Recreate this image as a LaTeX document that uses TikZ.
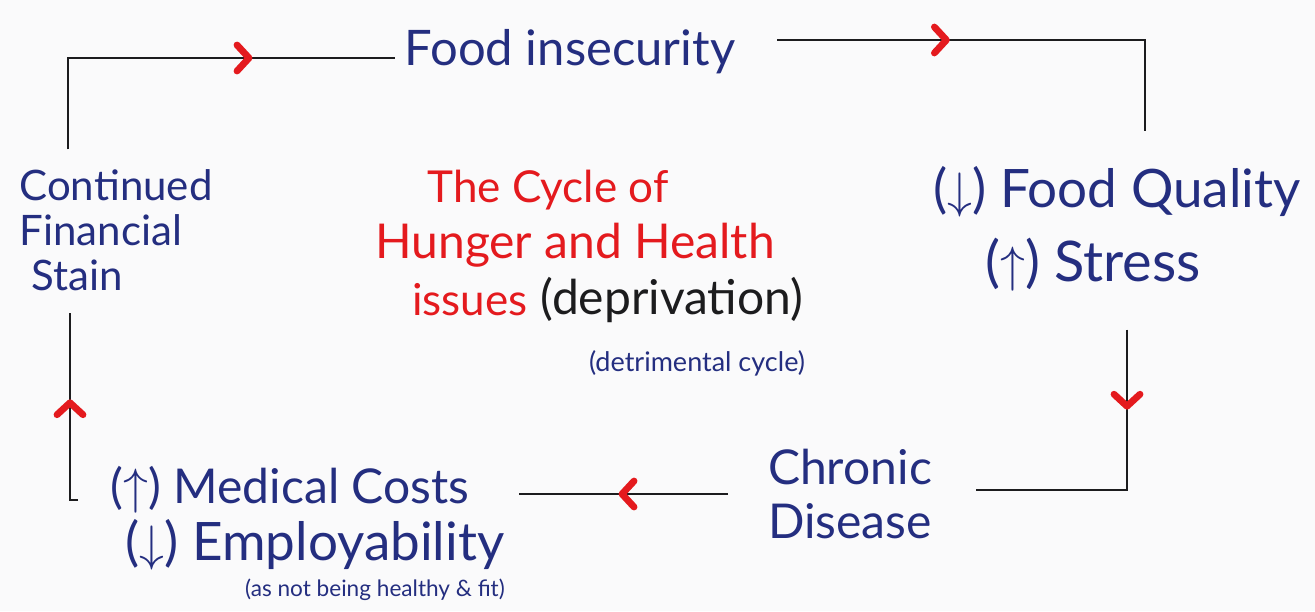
\documentclass[tikz,border=0pt]{standalone}
\usepackage{fontspec}
\setmainfont{Lato}
\usetikzlibrary{arrows.meta,decorations.markings}
\definecolor{ink}{RGB}{36,46,128}
\definecolor{redink}{RGB}{228,26,30}
\definecolor{pen}{RGB}{28,28,30}
\definecolor{paper}{RGB}{250,250,251}
\newcommand{\fsz}[1]{\fontsize{#1}{22.5}\selectfont}
\begin{document}
\begin{tikzpicture}[x=0.5pt,y=-0.5pt,
  every node/.style={inner sep=0pt, outer sep=0pt},
  lbl/.style={text=ink, font=\fsz{22}},
  headline/.style={text=redink, font=\fsz{22}},
  link/.style={draw=pen, line width=1.2pt},
  tip/.style={postaction={decorate, decoration={markings,
      mark=at position #1 with {\arrow{Straight Barb[length=6pt,width=13pt,line width=3.4pt,color=redink,round]}}}}}
]
% sheet
\path[fill=paper] (0,0) rectangle (1315,611);

% stages of the cycle
\node[lbl, font=\fsz{24.5}] (fi) at (570,52) {Food insecurity};
\node[lbl, font=\fsz{26.5}] (fq) at (1117,192) {($\downarrow$) Food Quality};
\node[lbl, font=\fsz{28}] (st) at (1093,265) {($\uparrow$) Stress};
\node[lbl, font=\fontsize{24}{27}\selectfont, align=right] (cd) at (850,494) {Chronic\\Disease};
\node[lbl, font=\fsz{24}] (med) at (290,490) {($\uparrow$) Medical Costs};
\node[lbl, font=\fsz{26.5}] (emp) at (315,545) {($\downarrow$) Employability};
\node[lbl, font=\fontsize{11.3}{13}\selectfont] (note) at (375,590) {(as not being healthy \& fit)};
\node[lbl, font=\fsz{21}, align=left] (stain) at (116,230) {Continued\\Financial\\\hspace*{6pt}Stain};

% centre heading
\node[headline] (t1) at (548,190) {The Cycle of};
\node[headline, font=\fsz{24}] (t2) at (575,245) {Hunger and Health};
\node[headline] (t3) at (470,300) {issues};
\node[text=pen, font=\fsz{24}] (depr) at (672,300) {(deprivation)};
\node[lbl, font=\fontsize{13.5}{15}\selectfont] (detr) at (697,363) {(detrimental cycle)};

% loose ends of the connectors
\coordinate (foot) at (70,500);

% connectors
\draw[link, tip=0.66, shorten <=10pt, shorten >=5pt]
  ([xshift=-24pt]stain.north) |- ([yshift=-3pt]fi.west);
\draw[link, tip=0.40, shorten <=21pt, shorten >=18pt]
  ([yshift=6pt]fi.east) -| ([xshift=14pt]fq.north);
\draw[link, tip=0.30, shorten <=19pt, shorten >=22pt]
  ([xshift=17pt]st.south) |- ([yshift=2pt]cd.east);
\draw[link, tip=0.50, shorten <=20pt, shorten >=25pt]
  (cd.west) -- (cd.west -| med.east);
\draw[link, tip=0.50, shorten >=11pt]
  (foot) ++(8,0) -- (foot) -- (stain.south -| foot);
\end{tikzpicture}
\end{document}
